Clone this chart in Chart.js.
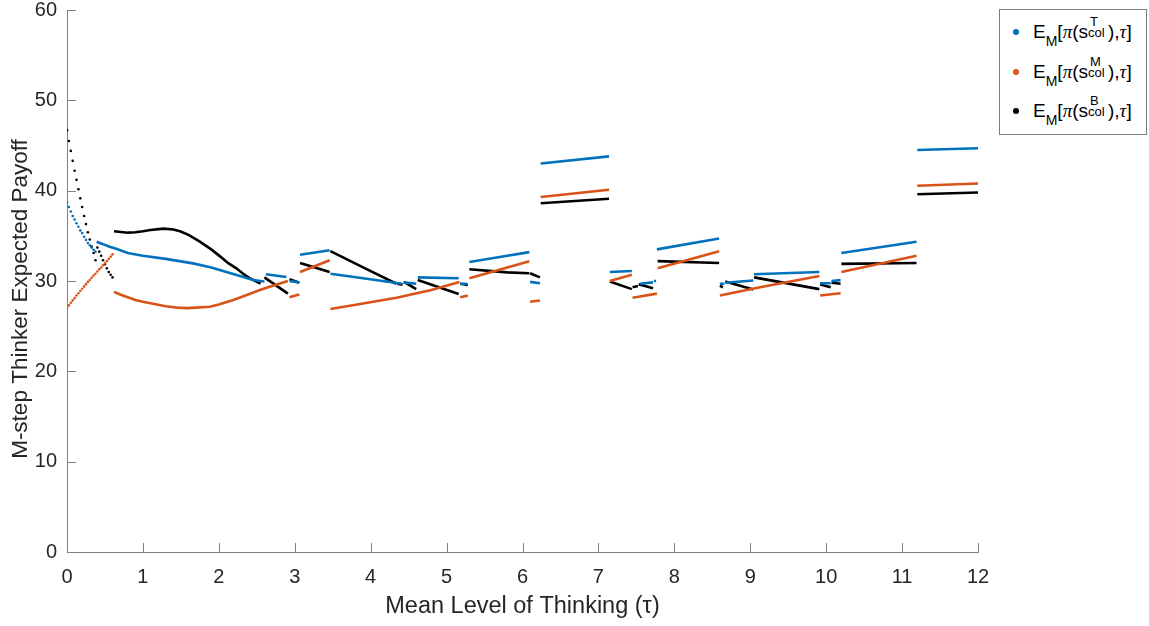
<!DOCTYPE html>
<html>
<head>
<meta charset="utf-8">
<script src="https://cdn.jsdelivr.net/npm/chart.js@4.4.1/dist/chart.umd.min.js"></script>
<style>
  html, body { margin: 0; padding: 0; background: #fff; }
  #wrap { position: relative; width: 1149px; height: 626px; }
  #legend {
    position: absolute; left: 999px; top: 9px; width: 148px; height: 126px;
    box-sizing: border-box; border: 1px solid #7a7a7a; background: #fff;
    font-family: "Liberation Sans", Arial, sans-serif; font-size: 19px; color: #000;
  }
  .item { position: absolute; left: 0; width: 100%; height: 20px; line-height: 20px; white-space: nowrap; }
  .dot { position: absolute; left: 13px; top: 7px; width: 6px; height: 6px; border-radius: 50%; }
  .txt { position: absolute; left: 33px; top: 0; }
  .txt i { font-family: "Liberation Serif", "DejaVu Serif", serif; }
  .sb { font-size: 14px; vertical-align: -8px; }
  .stack { display: inline-block; position: relative; width: 20px; height: 0; }
  .stack .t { position: absolute; left: 2px; bottom: 10px; font-size: 13px; line-height: 13px; }
  .stack .c { position: absolute; left: 0; bottom: -1px; font-size: 13px; line-height: 13px; }
</style>
</head>
<body>
<div id="wrap">
  <canvas id="chart" width="1149" height="626"></canvas>
  <div id="legend">
    <div class="item" style="top:12px"><span class="dot" style="background:#0072BD"></span><span class="txt">E<span class="sb">M</span>[<i>π</i>(s<span class="stack"><span class="t">T</span><span class="c">col</span></span>),<i>τ</i>]</span></div>
    <div class="item" style="top:52px"><span class="dot" style="background:#D95319"></span><span class="txt">E<span class="sb">M</span>[<i>π</i>(s<span class="stack"><span class="t">M</span><span class="c">col</span></span>),<i>τ</i>]</span></div>
    <div class="item" style="top:91px"><span class="dot" style="background:#000000"></span><span class="txt">E<span class="sb">M</span>[<i>π</i>(s<span class="stack"><span class="t">B</span><span class="c">col</span></span>),<i>τ</i>]</span></div>
  </div>
</div>
<script>
// piecewise curves, null = break between pieces
const tauT = [0.39, 0.45, 0.5, 0.56, 0.64, 0.8, 1.0, 1.3, 1.66, 1.9, 2.1, 2.3, 2.45, 2.6, null,
  2.62, 2.89, null, 2.93, 3.06, null, 3.07, 3.46, null, 3.47, 3.9, 4.41, null,
  4.43, 4.6, null, 4.62, 5.16, null, 5.18, 5.27, null, 5.3, 5.7, 6.09, null,
  6.1, 6.23, null, 6.24, 7.14, null, 7.15, 7.44, null, 7.55, 7.72, null,
  7.73, 7.76, null, 7.77, 8.59, null, 8.6, 8.66, null, 8.67, 9.04, null,
  9.05, 9.91, null, 9.92, 10.06, null, 10.07, 10.19, null, 10.2, 11.19, null,
  11.2, 12.0];
const payT = [34.35, 34.15, 34.0, 33.8, 33.6, 33.1, 32.8, 32.45, 31.95, 31.5, 31.0, 30.5, 30.1, 29.95, null,
  30.75, 30.45, null, 30.0, 29.85, null, 32.9, 33.4, null, 30.8, 30.3, 29.7, null,
  29.85, 29.7, null, 30.4, 30.3, null, 29.7, 29.7, null, 32.1, 32.65, 33.2, null,
  29.9, 29.75, null, 43.0, 43.8, null, 31.0, 31.1, null, 29.7, 29.85, null,
  30.0, 30.0, null, 33.5, 34.7, null, 29.7, 29.7, null, 29.8, 30.05, null,
  30.75, 31.0, null, 29.75, 29.75, null, 30.0, 30.1, null, 33.1, 34.35, null,
  44.5, 44.7];

const tauM = [0.62, 0.7, 0.8, 0.9, 1.0, 1.15, 1.3, 1.45, 1.58, 1.7, 1.88, 2.0, 2.19, 2.35, 2.54, 2.7, 2.91, null,
  2.93, 3.06, null, 3.07, 3.46, null, 3.47, 3.9, 4.34, 4.8, 5.17, null,
  5.18, 5.28, null, 5.3, 6.09, null, 6.1, 6.23, null, 6.24, 7.14, null,
  7.15, 7.44, null, 7.45, 7.77, null, 7.78, 8.59, null, 8.6, 9.13, 9.91, null,
  9.92, 10.19, null, 10.2, 11.19, null, 11.2, 12.0];
const payM = [28.8, 28.5, 28.2, 27.9, 27.7, 27.45, 27.2, 27.05, 27.0, 27.05, 27.15, 27.4, 27.9, 28.4, 29.0, 29.45, 30.0, null,
  28.2, 28.5, null, 31.0, 32.3, null, 26.9, 27.5, 28.15, 29.0, 29.9, null,
  28.2, 28.4, null, 30.3, 32.2, null, 27.7, 27.85, null, 39.3, 40.1, null,
  30.0, 30.7, null, 28.15, 28.6, null, 31.4, 33.3, null, 28.4, 29.3, 30.55, null,
  28.4, 28.65, null, 31.0, 32.8, null, 40.55, 40.8];

const tauB = [0.62, 0.8, 0.9, 1.0, 1.1, 1.27, 1.4, 1.49, 1.6, 1.75, 1.9, 2.02, 2.12, 2.23, 2.32, 2.41, 2.55, null,
  2.6, 2.91, null, 2.93, 3.06, null, 3.07, 3.46, null, 3.47, 3.9, 4.34, null,
  4.35, 4.42, null, 4.44, 4.6, null, 4.62, 5.16, null, 5.18, 5.28, null,
  5.3, 5.8, 6.09, null, 6.1, 6.23, null, 6.24, 7.14, null, 7.15, 7.44, null,
  7.45, 7.52, null, 7.53, 7.72, null, 7.78, 8.59, null, 8.6, 8.64, null,
  8.67, 9.04, null, 9.05, 9.91, null, 9.92, 10.06, null, 10.07, 10.19, null,
  10.2, 11.19, null, 11.2, 12.0];
const payB = [35.5, 35.35, 35.4, 35.5, 35.65, 35.8, 35.7, 35.5, 35.1, 34.35, 33.5, 32.7, 32.0, 31.4, 30.8, 30.3, 29.7, null,
  30.4, 28.6, null, 30.2, 29.8, null, 32.0, 31.0, null, 33.3, 31.5, 29.7, null,
  29.7, 29.6, null, 29.9, 29.1, null, 30.1, 28.55, null, 29.7, 29.55, null,
  31.3, 30.95, 30.85, null, 30.85, 30.4, null, 38.6, 39.1, null, 29.95, 29.1, null,
  29.3, 29.45, null, 29.65, 29.2, null, 32.2, 32.0, null, 29.5, 29.3, null,
  29.95, 29.05, null, 30.4, 29.1, null, 29.6, 29.3, null, 29.8, 29.7, null,
  31.9, 32.0, null, 39.6, 39.8];

// sparse dots near tau = 0
const dotTauT = [0, 0.025, 0.05, 0.075, 0.1, 0.125, 0.15, 0.175, 0.2, 0.225, 0.25, 0.275, 0.3, 0.325, 0.35, 0.375];
const dotPayT = [38.7, 38.2, 37.7, 37.2, 36.8, 36.4, 36.0, 35.6, 35.3, 34.9, 34.55, 34.2, 33.95, 33.7, 33.45, 33.25];

const dotTauM = [0, 0.025, 0.05, 0.075, 0.1, 0.125, 0.15, 0.175, 0.2, 0.225, 0.25, 0.275, 0.3,
  0.325, 0.35, 0.375, 0.4, 0.425, 0.45, 0.475, 0.5, 0.525, 0.55, 0.575, 0.6];
const dotPayM = [27.0, 27.3, 27.6, 27.85, 28.1, 28.4, 28.65, 28.9, 29.15, 29.4, 29.65, 29.9, 30.1,
  30.35, 30.6, 30.8, 31.05, 31.3, 31.5, 31.75, 31.95, 32.2, 32.45, 32.7, 32.95];

const dotTauB = [0, 0.025, 0.05, 0.075, 0.1, 0.125, 0.15, 0.175, 0.2, 0.225, 0.25, 0.275, 0.3, 0.325, 0.35, 0.375,
  0.4, 0.425, 0.45, 0.475, 0.5, 0.525, 0.55, 0.575, 0.6];
const dotPayB = [46.7, 45.5, 44.4, 43.3, 42.2, 41.2, 40.15, 39.15, 38.2, 37.2, 36.3, 35.4, 34.6, 33.8, 33.1, 32.3,
  33.7, 33.25, 32.8, 32.3, 31.85, 31.4, 31.0, 30.7, 30.4];

const xTicks = [0, 1, 2, 3, 4, 5, 6, 7, 8, 9, 10, 11, 12];
const yTicks = [0, 10, 20, 30, 40, 50, 60];
const yTitle = 'M-step Thinker Expected Payoff';

const blue = '#0072BD', orange = '#D95319', black = '#000000';
const axisColor = '#808080', textColor = '#262626';
const fontFam = '"Liberation Sans", Arial, sans-serif';

function pts(xs, ys) {
  return xs.map((x, i) => ({ x: x, y: ys[i] }));
}

function lineSet(xs, ys, color) {
  return {
    data: pts(xs, ys), showLine: true, spanGaps: false,
    borderColor: color, borderWidth: 2.6, pointRadius: 0, pointHoverRadius: 0
  };
}

function dotSet(xs, ys, color) {
  return {
    data: pts(xs, ys), showLine: false,
    backgroundColor: color, borderWidth: 0, pointRadius: 1.3, pointHoverRadius: 0
  };
}

// matlab style ticks pointing into the plot, and the y label
const axisExtras = {
  id: 'axisExtras',
  afterDraw(chart) {
    const { ctx, chartArea } = chart;
    const sx = chart.scales.x, sy = chart.scales.y;
    ctx.save();
    ctx.strokeStyle = axisColor;
    ctx.lineWidth = 1;
    ctx.beginPath();
    xTicks.forEach(v => {
      const p = Math.round(sx.getPixelForValue(v)) + 0.5;
      ctx.moveTo(p, chartArea.bottom);
      ctx.lineTo(p, chartArea.bottom - 9);
    });
    yTicks.forEach(v => {
      const p = Math.round(sy.getPixelForValue(v)) + 0.5;
      ctx.moveTo(chartArea.left, p);
      ctx.lineTo(chartArea.left + 9, p);
    });
    ctx.stroke();

    ctx.translate(21, 299);
    ctx.rotate(-Math.PI / 2);
    ctx.fillStyle = textColor;
    ctx.font = '22.5px ' + fontFam;
    ctx.textAlign = 'center';
    ctx.textBaseline = 'middle';
    ctx.fillText(yTitle, 0, 0);
    ctx.restore();
  }
};

new Chart(document.getElementById('chart'), {
  type: 'scatter',
  data: {
    datasets: [
      lineSet(tauT, payT, blue),
      lineSet(tauM, payM, orange),
      lineSet(tauB, payB, black),
      dotSet(dotTauT, dotPayT, blue),
      dotSet(dotTauM, dotPayM, orange),
      dotSet(dotTauB, dotPayB, black)
    ]
  },
  options: {
    responsive: false,
    animation: false,
    layout: { padding: { left: 0, top: 10, right: 171, bottom: 0 } },
    plugins: { legend: { display: false }, tooltip: { enabled: false } },
    scales: {
      x: {
        type: 'linear', min: 0, max: 12,
        afterFit: s => { s.height = 74; s.paddingLeft = 0; s.paddingRight = 0; },
        afterBuildTicks: s => { s.ticks = xTicks.map(v => ({ value: v })); },
        grid: { drawOnChartArea: false, drawTicks: false },
        border: { color: axisColor, width: 1 },
        ticks: { padding: 13, color: textColor, font: { family: fontFam, size: 20 }, maxRotation: 0 },
        title: { display: true, text: 'Mean Level of Thinking (τ)', color: textColor,
                 font: { family: fontFam, size: 23.5 }, padding: { top: 0, bottom: 5 } }
      },
      y: {
        type: 'linear', min: 0, max: 60,
        afterFit: s => { s.width = 67; s.paddingTop = 0; s.paddingBottom = 0; },
        afterBuildTicks: s => { s.ticks = yTicks.map(v => ({ value: v })); },
        grid: { drawOnChartArea: false, drawTicks: false },
        border: { color: axisColor, width: 1 },
        ticks: { padding: 10, color: textColor, font: { family: fontFam, size: 20 } }
      }
    }
  },
  plugins: [axisExtras]
});
</script>
</body>
</html>
